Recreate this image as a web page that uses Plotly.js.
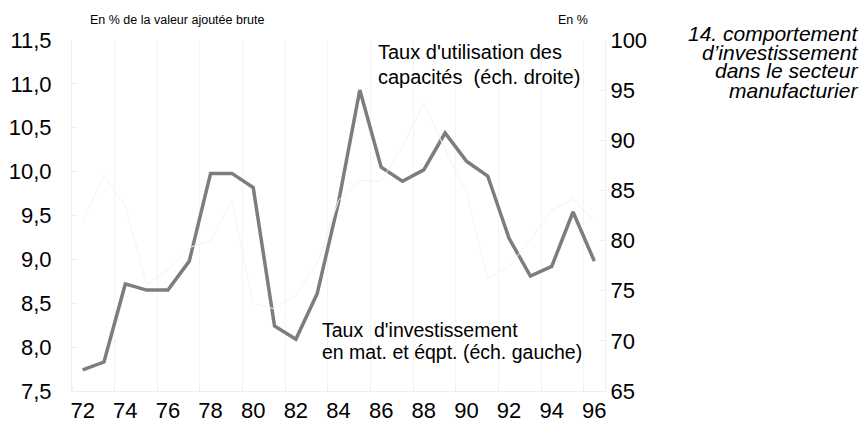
<!DOCTYPE html>
<html>
<head>
<meta charset="utf-8">
<script src="https://cdn.plot.ly/plotly-3.0.1.min.js"></script>
<style>html,body{margin:0;padding:0;background:#fff;}#chart{width:865px;height:434px;}</style>
</head>
<body>
<div id="chart"></div>
<script>
// ---- data ----
const years = [72, 73, 74, 75, 76, 77, 78, 79, 80, 81, 82, 83, 84, 85, 86, 87, 88, 89, 90, 91, 92, 93, 94, 95, 96];
const investissement = [7.74, 7.83, 8.72, 8.65, 8.65, 8.98, 9.98, 9.98, 9.82, 8.24, 8.09, 8.61, 9.65, 10.93, 10.05, 9.89, 10.02, 10.44, 10.12, 9.95, 9.24, 8.81, 8.92, 9.54, 8.98];
const utilisation = [81.9, 86.5, 83.5, 75.6, 77.1, 79.3, 80.0, 84.0, 73.7, 73.2, 74.6, 77.7, 84.0, 86.0, 85.9, 89.4, 93.7, 89.1, 84.9, 76.2, 77.4, 80.1, 83.0, 84.2, 81.9];
const xTickVals = [72, 74, 76, 78, 80, 82, 84, 86, 88, 90, 92, 94, 96];
const xTickText = ['72', '74', '76', '78', '80', '82', '84', '86', '88', '90', '92', '94', '96'];
const leftTickVals = [7.5, 8.0, 8.5, 9.0, 9.5, 10.0, 10.5, 11.0, 11.5];
const rightTickVals = [65, 70, 75, 80, 85, 90, 95, 100];
const titleLines = ['14. comportement', 'd\u2019investissement', 'dans le secteur', 'manufacturier'];

const FONT = 'Liberation Sans, Arial, sans-serif';
const faint = '#eeeeee';

const traces = [
  {x: years, y: utilisation, yaxis: 'y2', type: 'scatter', mode: 'lines',
   line: {color: '#f3f3f3', width: 1}, hoverinfo: 'skip'},
  {x: years, y: investissement, yaxis: 'y', type: 'scatter', mode: 'lines',
   line: {color: '#7d7d7d', width: 3.5}, hoverinfo: 'skip'}
];

const txt = (text, x, y, xanchor, size) => ({
  text: text, xref: 'paper', yref: 'paper', x: x, y: y, xanchor: xanchor, yanchor: 'middle',
  showarrow: false, font: {family: FONT, size: size, color: '#000'}
});

const annotations = [
  txt('En % de la valeur ajout\u00e9e brute', 0.030, 1.057, 'left', 12.5),
  txt('En %', 0.972, 1.057, 'right', 12.5),
  txt('Taux d\'utilisation des', 0.570, 0.966, 'left', 20),
  txt('capacit\u00e9s\u00a0\u00a0(\u00e9ch. droite)', 0.570, 0.895, 'left', 20),
  txt('Taux\u00a0\u00a0d\'investissement', 0.465, 0.174, 'left', 19.5),
  txt('en mat. et \u00e9qpt. (\u00e9ch. gauche)', 0.465, 0.111, 'left', 19.5)
];
const titleY = [1.0199, 0.9658, 0.9117, 0.8575];
titleLines.forEach((t, i) => annotations.push(txt('<i>' + t + '</i>', 1.478, titleY[i], 'right', 21)));

const layout = {
  width: 865, height: 434,
  margin: {l: 72, r: 260, t: 40, b: 43, pad: 0},
  paper_bgcolor: '#fff', plot_bgcolor: '#fff',
  showlegend: false,
  separators: ', ',
  xaxis: {
    range: [71.5, 96.5], tickmode: 'array', tickvals: xTickVals, ticktext: xTickText,
    showgrid: false, zeroline: false, showline: true, linecolor: faint, linewidth: 1,
    ticks: '', ticklabelstandoff: 0,
    minor: {tick0: 71.5, dtick: 2, showgrid: true, gridcolor: '#f4f4f4', gridwidth: 1, ticks: 'inside', ticklen: 4, tickcolor: faint},
    tickfont: {family: FONT, size: 22, color: '#000'}
  },
  yaxis: {
    range: [7.5, 11.5], tickmode: 'array', tickvals: leftTickVals, tickformat: '.1f',
    showgrid: false, zeroline: false, showline: true, linecolor: faint, linewidth: 1,
    ticks: 'inside', ticklen: 5, tickcolor: faint, ticklabelstandoff: 15,
    tickfont: {family: FONT, size: 22, color: '#000'}
  },
  yaxis2: {
    range: [65, 100], overlaying: 'y', side: 'right', tickmode: 'array', tickvals: rightTickVals,
    showgrid: false, zeroline: false, showline: true, linecolor: faint, linewidth: 1,
    ticks: 'inside', ticklen: 5, tickcolor: faint, ticklabelstandoff: 0,
    tickfont: {family: FONT, size: 22, color: '#000'}
  },
  annotations: annotations
};

Plotly.newPlot('chart', traces, layout, {staticPlot: true, displayModeBar: false});
</script>
</body>
</html>
